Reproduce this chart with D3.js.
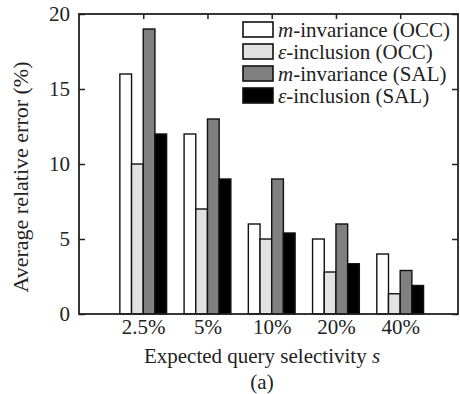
<!DOCTYPE html>
<html>
<head>
<meta charset="utf-8">
<script src="https://cdn.jsdelivr.net/npm/d3@7"></script>
<style>
  body { margin: 0; background: #fff; }
</style>
</head>
<body>
<div id="chart"></div>
<script>
// categories and series
const selectivity = ["2.5%", "5%", "10%", "20%", "40%"];
const seriesNames = ["m-invariance (OCC)", "ε-inclusion (OCC)", "m-invariance (SAL)", "ε-inclusion (SAL)"];
const mInvOCC = [16, 12, 6, 5, 4];
const epsOCC = [10, 7, 5, 2.8, 1.35];
const mInvSAL = [19, 13, 9, 6, 2.9];
const epsSAL = [12, 9, 5.4, 3.35, 1.9];
const yTicks = [0, 5, 10, 15, 20];

const seriesValues = [mInvOCC, epsOCC, mInvSAL, epsSAL];
const fills = ["#ffffff", "#e2e2e2", "#808080", "#000000"];
const FONT = "'Liberation Serif'";
const FS = 21;

const W = 460, H = 394;
const M = {top: 14, right: 2, bottom: 80, left: 79};

const svg = d3.select("#chart").append("svg")
    .attr("width", W).attr("height", H);

function txt(sel, size) {
    return sel.style("font-family", FONT).style("font-size", (size || FS) + "px").attr("fill", "#222");
}

// x is a linear slot axis: group i sits at i+1
const x = d3.scaleLinear().domain([0, 5.9]).range([M.left, W - M.right]);
const y = d3.scaleLinear().domain([0, 20]).range([H - M.bottom, M.top]);
const barW = 0.182; // in x units

const data = [];
selectivity.forEach((cat, i) => {
    seriesValues.forEach((vals, s) => {
        data.push({cat: i, s: s, v: vals[i]});
    });
});

svg.append("g").selectAll("rect")
    .data(data)
    .enter().append("rect")
      .attr("x", d => x(d.cat + 1 + (d.s - 2) * barW))
      .attr("y", d => y(d.v))
      .attr("width", x(barW) - x(0))
      .attr("height", d => y(0) - y(d.v))
      .attr("fill", (d) => fills[d.s])
      .attr("stroke", "#111")
      .attr("stroke-width", 1.4);

// axes: y left, mirrored right, x ticks on top
const yl = svg.append("g")
    .attr("transform", `translate(${M.left},0)`)
    .call(d3.axisLeft(y).tickValues(yTicks).tickSize(-6).tickPadding(9));
const yr = svg.append("g")
    .attr("transform", `translate(${W - M.right},0)`)
    .call(d3.axisRight(y).tickValues(yTicks).tickSize(-6).tickFormat(""));
const xt = svg.append("g")
    .attr("transform", `translate(0,${M.top})`)
    .call(d3.axisTop(x).tickValues(d3.range(1, 6)).tickSize(-5).tickFormat(""));
const xb = svg.append("g")
    .attr("transform", `translate(0,${H - M.bottom})`)
    .call(d3.axisBottom(x).tickValues(d3.range(1, 6)).tickSize(0).tickPadding(5)
        .tickFormat(d => selectivity[d - 1]));

[yl, yr, xt, xb].forEach(g => {
    g.attr("font-family", null).attr("font-size", null);
    g.select(".domain").remove();
    g.selectAll("line").attr("stroke", "#222").attr("stroke-width", 1.5);
    txt(g.selectAll("text"));
});

// frame
svg.append("rect")
    .attr("x", M.left).attr("y", M.top)
    .attr("width", W - M.right - M.left)
    .attr("height", H - M.bottom - M.top)
    .attr("fill", "none").attr("stroke", "#222").attr("stroke-width", 1.8);

// legend
const leg = svg.append("g").attr("transform", "translate(243,22)");
seriesNames.forEach((name, i) => {
    const row = leg.append("g").attr("transform", `translate(0,${i * 22})`);
    row.append("rect")
        .attr("width", 30).attr("height", 15)
        .attr("fill", fills[i]).attr("stroke", "#111").attr("stroke-width", 1.6);
    const parts = name.split("-");
    const t = txt(row.append("text").attr("x", 35).attr("y", 14.5));
    t.append("tspan").attr("font-style", "italic").text(parts[0]);
    t.append("tspan").text("-" + parts.slice(1).join("-"));
});

// axis titles
const xl = txt(svg.append("text")
    .attr("x", 262).attr("y", 363)
    .attr("text-anchor", "middle"));
xl.append("tspan").text("Expected query selectivity ");
xl.append("tspan").attr("font-style", "italic").text("s");

txt(svg.append("text")
    .attr("x", 262).attr("y", 389)
    .attr("text-anchor", "middle"))
    .text("(a)");

txt(svg.append("text")
    .attr("transform", "translate(28,177) rotate(-90)")
    .attr("text-anchor", "middle"), 22)
    .text("Average relative error (%)");
</script>
</body>
</html>
